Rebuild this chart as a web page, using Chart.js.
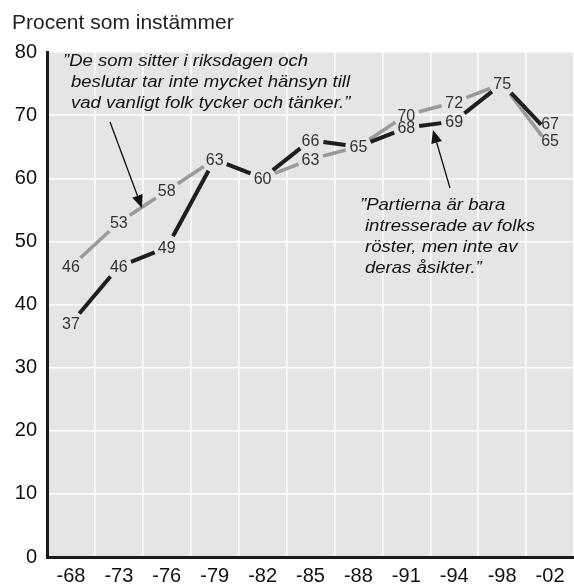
<!DOCTYPE html>
<html>
<head>
<meta charset="utf-8">
<script src="https://cdn.jsdelivr.net/npm/chart.js@4/dist/chart.umd.min.js"></script>
<style>
  body { margin: 0; background: #fff; }
  canvas { display: block; }
</style>
</head>
<body>
<canvas id="chart" width="574" height="586"></canvas>
<script>
// Data
const years = ["-68", "-73", "-76", "-79", "-82", "-85", "-88", "-91", "-94", "-98", "-02"];
const riksdagen = [46, 53, 58, 63, 60, 63, 65, 70, 72, 75, 65];   // grey line
const partierna = [37, 46, 49, 63, 60, 66, 65, 68, 69, 75, 67];   // black line
const yTicks = [0, 10, 20, 30, 40, 50, 60, 70, 80];

const FONT = "'Liberation Sans', Arial, Helvetica, sans-serif";
const PLOT_BG = "#e5e5e7";
const GAP = 13; // free space left around every value label

// grey plot background
const plotBg = {
    id: "plotBg",
    beforeDraw(chart) {
        const a = chart.chartArea;
        const ctx = chart.ctx;
        ctx.save();
        ctx.fillStyle = PLOT_BG;
        ctx.fillRect(a.left, a.top, a.right - a.left, a.bottom - a.top);
        ctx.restore();
    }
};

// shortened line segments + value labels on the points
const gappedLines = {
    id: "gappedLines",
    afterDatasetsDraw(chart) {
        const ctx = chart.ctx;
        ctx.save();
        chart.data.datasets.forEach((ds, di) => {
            const pts = chart.getDatasetMeta(di).data;
            ctx.strokeStyle = ds.borderColor;
            ctx.lineWidth = ds.borderWidth;
            ctx.lineCap = "butt";
            for (let i = 0; i < pts.length - 1; i++) {
                const a = pts[i], b = pts[i + 1];
                const dx = b.x - a.x, dy = b.y - a.y;
                const len = Math.sqrt(dx * dx + dy * dy);
                const ux = dx / len, uy = dy / len;
                ctx.beginPath();
                ctx.moveTo(a.x + ux * GAP, a.y + uy * GAP);
                ctx.lineTo(b.x - ux * GAP, b.y - uy * GAP);
                ctx.stroke();
            }
        });

        // labels
        ctx.font = "16px " + FONT;
        ctx.fillStyle = "#333";
        ctx.textAlign = "center";
        ctx.textBaseline = "middle";
        const grey = chart.getDatasetMeta(0).data;
        const black = chart.getDatasetMeta(1).data;
        riksdagen.forEach((v, i) => {
            let dy = (i === years.length - 1) ? -5 : 1;
            ctx.fillText(String(v), grey[i].x, grey[i].y + dy);
        });
        partierna.forEach((v, i) => {
            if (v === riksdagen[i]) return; // shared point, label drawn once
            let dy = (i === years.length - 1) ? -9 : 1;
            ctx.fillText(String(v), black[i].x, black[i].y + dy);
        });
        ctx.restore();
    }
};

function arrow(ctx, x1, y1, x2, y2) {
    const ang = Math.atan2(y2 - y1, x2 - x1);
    const hl = 13, hw = 5.5;
    const bx = x2 - Math.cos(ang) * hl, by = y2 - Math.sin(ang) * hl;
    ctx.beginPath();
    ctx.moveTo(x1, y1);
    ctx.lineTo(bx, by);
    ctx.strokeStyle = "#111";
    ctx.lineWidth = 1.3;
    ctx.stroke();
    ctx.beginPath();
    ctx.moveTo(x2, y2);
    ctx.lineTo(bx - Math.sin(ang) * hw, by + Math.cos(ang) * hw);
    ctx.lineTo(bx + Math.sin(ang) * hw, by - Math.cos(ang) * hw);
    ctx.closePath();
    ctx.fillStyle = "#111";
    ctx.fill();
}

// italic text, a bit wider than the plain font
function wideText(ctx, txt, x, y) {
    ctx.save();
    ctx.translate(x, y);
    ctx.scale(1.09, 1);
    ctx.fillText(txt, 0, 0);
    ctx.restore();
}

// title and the two quotes with arrows
const notes = {
    id: "notes",
    afterDraw(chart) {
        const ctx = chart.ctx;
        ctx.save();
        ctx.fillStyle = "#222";
        ctx.textAlign = "left";
        ctx.textBaseline = "alphabetic";
        ctx.font = "21px " + FONT;
        ctx.fillText("Procent som instämmer", 12, 29);

        ctx.font = "italic 17px " + FONT;
        ctx.fillStyle = "#111";
        wideText(ctx, "”De som sitter i riksdagen och", 63, 66);
        wideText(ctx, "beslutar tar inte mycket hänsyn till", 71, 87);
        wideText(ctx, "vad vanligt folk tycker och tänker.”", 71, 108);

        wideText(ctx, "”Partierna är bara", 360, 210);
        wideText(ctx, "intresserade av folks", 365, 231);
        wideText(ctx, "röster, men inte av", 365, 252);
        wideText(ctx, "deras åsikter.”", 365, 273);

        arrow(ctx, 110, 122, 142, 208);
        arrow(ctx, 450, 188, 433, 130);
        ctx.restore();
    }
};

new Chart(document.getElementById("chart"), {
    type: "line",
    data: {
        labels: years,
        datasets: [
            {
                label: "De som sitter i riksdagen och beslutar tar inte mycket hänsyn till vad vanligt folk tycker och tänker",
                data: riksdagen,
                borderColor: "#9a9a9c",
                borderWidth: 3.5,
                showLine: false,
                pointRadius: 0
            },
            {
                label: "Partierna är bara intresserade av folks röster, men inte av deras åsikter",
                data: partierna,
                borderColor: "#1e1e1e",
                borderWidth: 4,
                showLine: false,
                pointRadius: 0
            }
        ]
    },
    options: {
        responsive: false,
        animation: false,
        devicePixelRatio: 1,
        layout: { padding: { top: 52, right: 0, left: 0, bottom: 0 } },
        plugins: {
            legend: { display: false },
            tooltip: { enabled: false }
        },
        scales: {
            x: {
                offset: true,
                grid: { offset: true, color: "#ffffff", lineWidth: 1.5, drawTicks: false },
                border: { color: "#1a1a1a", width: 3 },
                ticks: { color: "#111", font: { family: FONT, size: 20 }, padding: 7, maxRotation: 0, autoSkip: false },
                afterFit: s => { s.height = 29; }
            },
            y: {
                min: 0,
                max: 80,
                afterBuildTicks: s => { s.ticks = yTicks.map(v => ({ value: v })); },
                grid: { color: "#ffffff", lineWidth: 1.5, drawTicks: false },
                border: { color: "#1a1a1a", width: 3 },
                ticks: { color: "#111", font: { family: FONT, size: 20 }, padding: 10 },
                afterFit: s => { s.width = 47; }
            }
        }
    },
    plugins: [plotBg, gappedLines, notes]
});
</script>
</body>
</html>
